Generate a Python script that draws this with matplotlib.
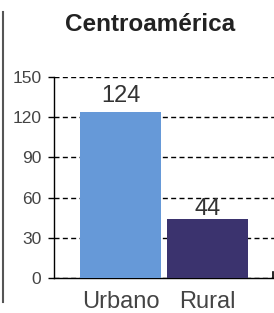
import matplotlib
matplotlib.use("Agg")
import matplotlib.pyplot as plt
from matplotlib.lines import Line2D

categories = ["Urbano", "Rural"]
values = [124, 44]
colors = ["#6699d8", "#3b336e"]
yticks = [0, 30, 60, 90, 120, 150]
title = "Centroamérica"

label_offsets_pt = [7.2, 2.9]

plt.rcParams['font.family'] = ['Liberation Sans', 'DejaVu Sans']

fig = plt.figure(figsize=(2.74, 3.13), dpi=100)
W, H = 274, 313
ax = fig.add_axes([54 / W, 35 / H, (276 - 54) / W, (278 - 77) / H])

x = list(range(len(categories)))
bars = ax.bar(x, values, width=0.92, color=colors, zorder=3)
ax.set_xlim(-0.764, 1.787)
ax.set_ylim(0, 150)
ax.set_yticks(yticks)
ax.yaxis.grid(True, color="black", linestyle=(0, (3.6, 2.4)), linewidth=1.0, zorder=1)
ax.set_axisbelow(True)

for s in ["top", "right"]:
    ax.spines[s].set_visible(False)
for s in ["left", "bottom"]:
    ax.spines[s].set_color("black")
    ax.spines[s].set_linewidth(1.0)

ax.set_xticks(x)
ax.set_xticklabels(categories, fontsize=17, color="#444444")
ax.tick_params(axis="x", length=0, pad=9)
ax.tick_params(axis="y", length=4, width=1, pad=5, labelsize=12.5, labelcolor="#444444", color="black")

for xi, v, off in zip(x, values, label_offsets_pt):
    ax.annotate(str(v), (xi, v), xytext=(0, off), textcoords="offset points",
                ha="center", va="baseline", fontsize=17, color="#333333", zorder=4)

fig.text(150.5 / W, 1 - 31 / H, title, ha="center", va="baseline",
         fontsize=17.5, fontweight="bold", color="#222222")

fig.add_artist(Line2D([3 / W, 3 / W], [1 - 12 / H, 1 - 302 / H], color="#555555", linewidth=1.5))
fig.add_artist(Line2D([272.5 / W, 272.5 / W], [1 - 278 / H, 1 - 272 / H], color="black", linewidth=1.2))

fig.savefig("out.png", dpi=100)
